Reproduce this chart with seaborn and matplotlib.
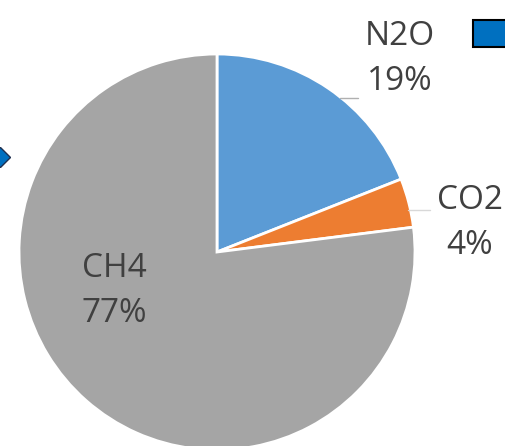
import matplotlib.pyplot as plt
import matplotlib.patches as mpatches
import seaborn as sns

# gas share data
gases = ["N2O", "CO2", "CH4"]
shares = [19, 4, 77]
pct_labels = ["19%", "4%", "77%"]

sns.set_style("white")
plt.rcParams['font.family'] = ['Open Sans', 'DejaVu Sans']

colors = ["#5B9BD5", "#ED7D31", "#A5A5A5"]

fig = plt.figure(figsize=(5.06, 4.46), dpi=100)
ax = fig.add_axes([0, 0, 1, 1])

# pie - starts at top and goes clockwise
ax.pie(shares, colors=colors, startangle=90, counterclock=False,
       center=(217, 194), radius=198, frame=True,
       wedgeprops={"edgecolor": "white", "linewidth": 2})
ax.set_xlim(0, 506)
ax.set_ylim(0, 446)
ax.set_aspect("equal")
ax.axis("off")

# labels (name + percent on two lines)
label_pos = [(400, 387), (470, 223), (114, 155)]
for g, p, (x, y) in zip(gases, pct_labels, label_pos):
    ax.text(x, y, g + "\n" + p, ha="center", va="center", fontsize=24,
            color="#404040", linespacing=1.45)

# leader lines
ax.plot([340, 358], [348, 348], color="#b0b0b0", lw=1)
ax.plot([408, 430], [236, 236], color="#d8d8d8", lw=1)

# bit of legend box in the corner
ax.add_patch(mpatches.Rectangle((473, 399), 40, 27, facecolor="#0070C0",
                                edgecolor="black", lw=1.5, clip_on=False))

# small blue marker cut at left edge
ax.plot([0], [289], marker="D", markersize=10, color="#0070C0",
        markeredgecolor="#203050", clip_on=True)

fig.savefig("out.png", dpi=100)
